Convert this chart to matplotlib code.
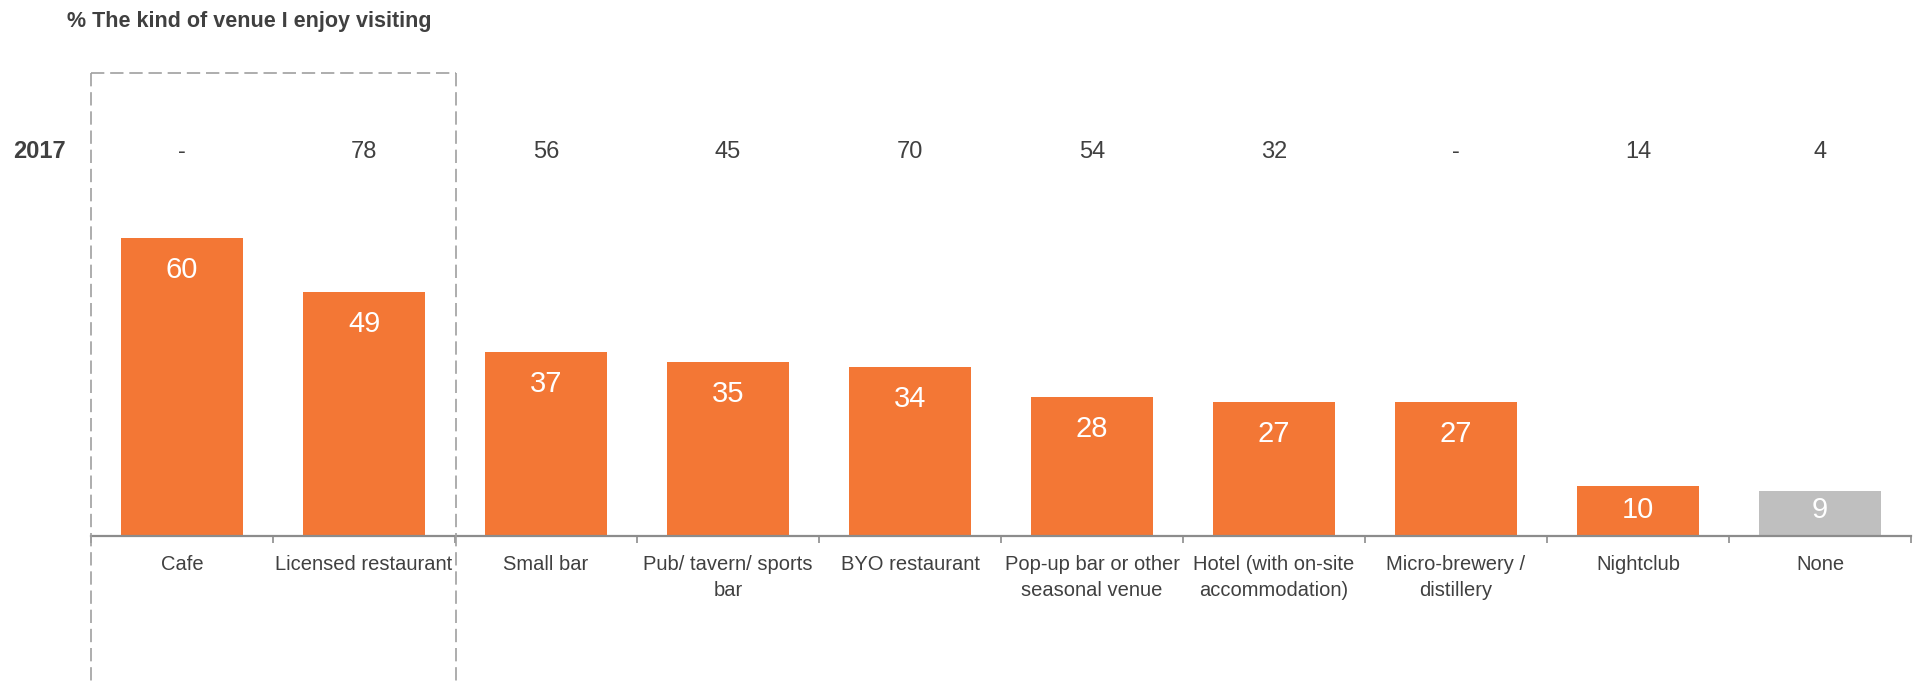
import matplotlib
matplotlib.use('Agg')
import matplotlib.pyplot as plt
from matplotlib import font_manager
from matplotlib.lines import Line2D
import matplotlib.transforms as mtransforms

# data
categories = ['Cafe', 'Licensed restaurant', 'Small bar', 'Pub/ tavern/ sports\nbar', 'BYO restaurant',
              'Pop-up bar or other\nseasonal venue', 'Hotel (with on-site\naccommodation)',
              'Micro-brewery /\ndistillery', 'Nightclub', 'None']
values = [60, 49, 37, 35, 34, 28, 27, 27, 10, 9]
values_2017 = ['-', '78', '56', '45', '70', '54', '32', '-', '14', '4']
bar_colors = ['#F37735'] * 9 + ['#BFBFBF']

names = {f.name for f in font_manager.fontManager.ttflist}
fam = 'Liberation Sans Narrow' if 'Liberation Sans Narrow' in names else 'Liberation Sans'
plt.rcParams['font.family'] = [fam, 'DejaVu Sans']
txt = '#404040'

W, H = 1919, 681
fig = plt.figure(figsize=(W / 100, H / 100), dpi=100)
x0, x1 = 91, 1911
base_y, top_y = 536, 80
ax = fig.add_axes([x0 / W, (H - base_y) / H, (x1 - x0) / W, (base_y - top_y) / H])

x = list(range(len(categories)))
bars = ax.bar(x, values, width=0.67, color=bar_colors)
ax.set_xlim(-0.5, len(categories) - 0.5)
ax.set_ylim(0, (base_y - top_y) / 4.97)

# value labels inside the bars (small bars get the label a bit higher up)
for b, v in zip(bars, values):
    ax.text(b.get_x() + b.get_width() / 2, max(v - 8.0, 3.6), str(v), ha='center',
            va='baseline', color='white', fontsize=21)

for s in ['top', 'right', 'left']:
    ax.spines[s].set_visible(False)
ax.spines['bottom'].set_color('#8C8C8C')
ax.spines['bottom'].set_linewidth(1.6)
ax.set_yticks([])
ax.set_xticks(x)
ax.set_xticklabels(categories, fontsize=14.5, color=txt, linespacing=1.45)
ax.tick_params(axis='x', which='major', length=0, pad=14)
ax.set_xticks([i - 0.5 for i in range(len(categories) + 1)], minor=True)
ax.tick_params(axis='x', which='minor', length=5, width=1.2, color='#8C8C8C', direction='out')

# 2017 row
trans = mtransforms.blended_transform_factory(ax.transData, fig.transFigure)
for i, v in enumerate(values_2017):
    ax.text(i, 1 - 152 / H, v, ha='center', va='center', fontsize=17, color=txt,
            transform=trans, clip_on=False)
fig.text(13 / W, 1 - 152 / H, '2017', ha='left', va='center', fontsize=17,
         fontweight='bold', color=txt)
fig.text(67 / W, 1 - 21 / H, '% The kind of venue I enjoy visiting', ha='left', va='center',
         fontsize=15.5, fontweight='bold', color=txt)

# dashed highlight box
bx0, bx1, by = 91 / W, 456 / W, 1 - 73 / H
for xs, ys in [([bx0, bx1], [by, by]), ([bx0, bx0], [by, 0]), ([bx1, bx1], [by, 0])]:
    fig.add_artist(Line2D(xs, ys, transform=fig.transFigure, color='#A0A0A0',
                          lw=1.2, linestyle=(0, (8, 3.5))))

fig.savefig('out.png', dpi=100)
